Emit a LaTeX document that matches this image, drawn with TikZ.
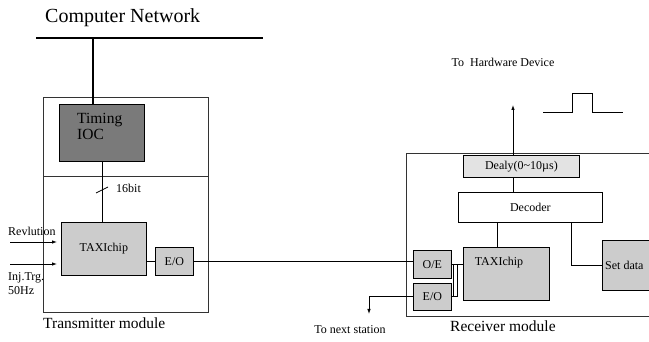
\documentclass[tikz,border=0pt]{standalone}
\usepackage{fontspec}
\setmainfont{Liberation Serif}
\usetikzlibrary{arrows.meta}
\begin{document}
\begin{tikzpicture}[x=1pt,y=-1pt,
  box/.style={draw, line width=0.8pt, inner sep=0pt, anchor=north west, font=\fontsize{12}{14}\selectfont},
  ltbox/.style={box, fill=black!20},
  dkbox/.style={box, fill=black!52},
  pale/.style={box, fill=black!11},
  frame/.style={draw=black!80, line width=0.9pt},
  net/.style={line width=1.6pt},
  wire/.style={line width=0.8pt},
  arr/.style={wire, -{Latex[length=5pt,width=3.5pt]}},
  small/.style={font=\fontsize{12}{14}\selectfont, inner sep=0pt},
  big/.style={font=\fontsize{15.5}{17}\selectfont, inner sep=0pt},
  huge/.style={font=\fontsize{20}{22}\selectfont, inner sep=0pt}]
\useasboundingbox (0,0) rectangle (649,342);
\clip (0,0) rectangle (649,342);

% Computer network
\node[huge, anchor=base west] (cn) at (45,23) {Computer Network};
\coordinate (nl) at (36,38);
\coordinate (nr) at (263,38);
\coordinate (nj) at (93,38);
\draw[net] (nl) -- (nr);

% Transmitter module
\node[frame, anchor=north west, minimum width=165pt, minimum height=215pt, inner sep=0pt] (tx) at (43,97) {};
\coordinate (dl) at (43,176);
\draw[frame] (dl) -- (dl -| tx.east);
\node[dkbox, minimum width=85pt, minimum height=57pt] (tim) at (59,104) {};
\node[big, anchor=base west] (timt1) at (77,124) {Timing};
\node[big, anchor=base west] (timt2) at (77,140) {IOC};
\draw[net] (nj) -- (nj |- tim.north);
\node[ltbox, minimum width=85pt, minimum height=53pt] (ttaxi) at (61,222) {TAXIchip};
\node[ltbox, minimum width=38pt, minimum height=28pt] (teo) at (155,247) {E/O};
\coordinate (bx) at (102,0);
\draw[wire] (bx |- tim.south) -- (bx |- ttaxi.north);
\coordinate (s1) at (96,193);
\coordinate (s2) at (108,187);
\draw[wire] (s1) -- (s2);
\node[small, anchor=west] (bits) at (116,188) {16bit};
\draw[wire] (ttaxi.east |- teo.west) -- (teo.west);

% inputs
\node[small, anchor=west] (rev) at (8,231) {Revlution};
\coordinate (r1) at (10,242);
\coordinate (r2) at (10,264);
\draw[arr, shorten >=4pt] (r1) -- (r1 -| ttaxi.west);
\draw[arr, shorten >=4pt] (r2) -- (r2 -| ttaxi.west);
\node[small, anchor=north west, align=left] (inj) at (8,272) {Inj.Trg.\\50Hz};
\node[big, anchor=base west] (txl) at (43,329) {Transmitter module};

% Receiver module
\coordinate (rtl) at (406,153);
\coordinate (rbl) at (406,316);
\coordinate (rtr) at (660,153);
\coordinate (rbr) at (660,316);
\draw[frame] (rtr) -- (rtl) -- (rbl) -- (rbr);
\node[pale, minimum width=116pt, minimum height=22pt] (dly) at (463,155) {Dealy(0\textasciitilde10µs)};
\node[box, minimum width=144pt, minimum height=30pt] (dec) at (458,192) {Decoder};
\node[ltbox, minimum width=86pt, minimum height=53pt] (rtaxi) at (463,247) {};
\node[small, anchor=center] (rtaxit) at (499,263) {TAXIchip};
\node[ltbox, minimum width=60pt, minimum height=50pt] (set) at (602,240) {};
\node[small, anchor=west] (sett) at (605,265) {Set data};
\node[ltbox, minimum width=38pt, minimum height=28pt] (oe) at (413,250) {O/E};
\node[ltbox, minimum width=38pt, minimum height=27pt] (reo) at (413,283) {E/O};
\node[big, anchor=base west] (rxl) at (450,331) {Receiver module};

% optical link
\draw[wire] (teo.east) -- (teo.east -| oe.west);
\draw[wire] (oe.east) -- (oe.east -| rtaxi.west);
\coordinate (bk1) at (453,0);
\coordinate (bk2) at (457,0);
\draw[wire] (bk1 |- oe.east) -- (bk1 |- reo.east);
\draw[wire] (reo.east) -- (bk2 |- reo.east) -- (bk2 |- oe.east);

% to next station
\coordinate (ns) at (369,314);
\draw[arr] (reo.west) -| (ns);
\node[small, anchor=center] (nst) at (350,330) {To next station};

% decoder links
\coordinate (ux) at (513,105);
\draw[arr] (ux |- dly.north) -- (ux);
\draw[wire] (ux |- dly.south) -- (ux |- dec.north);
\coordinate (dx) at (497,0);
\draw[wire] (dx |- dec.south) -- (dx |- rtaxi.north);
\coordinate (sx) at (571,0);
\draw[wire] (sx |- dec.south) |- (set.west);

% hardware device
\node[small, anchor=center] (hw) at (503,62) {To\ \ Hardware Device};
\coordinate (p1) at (543,112);
\coordinate (p2) at (572,112);
\coordinate (p3) at (572,93);
\coordinate (p4) at (592,93);
\coordinate (p5) at (592,112);
\coordinate (p6) at (623,112);
\draw[wire] (p1) -- (p2) -- (p3) -- (p4) -- (p5) -- (p6);
\end{tikzpicture}
\end{document}
